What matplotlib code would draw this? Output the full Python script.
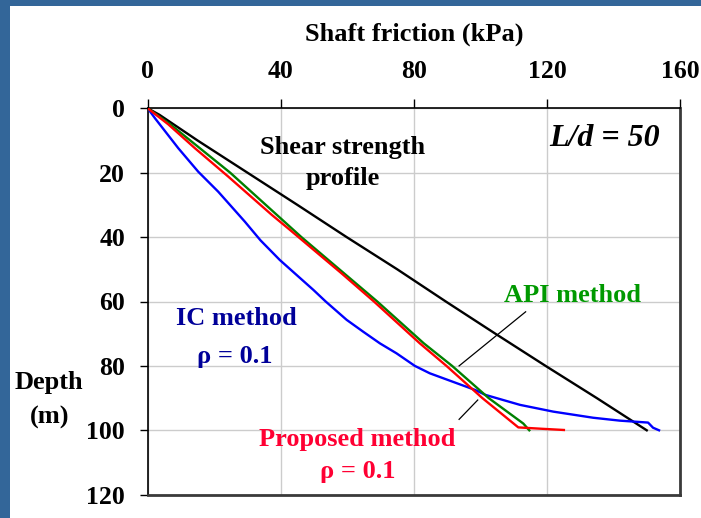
import matplotlib
matplotlib.use("Agg")
import matplotlib.pyplot as plt
from matplotlib.patches import Rectangle

# Shaft friction (kPa) versus depth (m) for a pile with L/d = 50
shear_depth = [0, 2, 10, 20, 30, 40, 50, 60, 70, 80, 90, 100]
shear_friction = [0, 3.5, 15, 30, 45, 59.8, 75, 89.6, 104.5, 119.6, 135, 150]

api_depth = [0, 5, 20, 40, 60, 73, 80, 90, 97.9, 100]
api_friction = [0, 6.8, 24.8, 46.2, 69.0, 83.0, 91.5, 102.5, 112.9, 114.7]

proposed_depth = [0, 5, 12.4, 21.2, 33.1, 37.8, 51.2, 60, 73, 80, 90, 99.1, 99.5, 99.9]
proposed_friction = [0, 6.2, 14.2, 24.2, 37.3, 42.8, 58.2, 68.0, 81.8, 89.8, 100.6, 111.4, 118, 125.1]

ic_depth = [0, 3.1, 12.4, 19.7, 25.9, 35.2, 41.0, 47.1, 51.8, 56.4, 60, 65.7, 69.4,
            73.0, 76.1, 80.0, 82.3, 84.2, 87.5, 89.0, 92.1, 94.2, 96.1, 97.0, 97.6,
            99.2, 100]
ic_friction = [0, 2.2, 9.2, 15.2, 21.2, 29.2, 33.9, 39.7, 44.8, 49.8, 53.5, 59.8, 64.8,
               69.8, 74.8, 80.3, 84.8, 89.8, 98.5, 101.5, 111.9, 121.9, 133.9, 141.9, 150.4,
               151.9, 153.7]

# leader lines from the "API method" label
leader1_x = [113.6, 93.6]
leader1_y = [63.2, 80.0]
leader2_x = [99.2, 93.6]
leader2_y = [90.6, 96.6]

x_ticks = [0, 40, 80, 120, 160]
y_ticks = [0, 20, 40, 60, 80, 100, 120]

SERIF = ["Liberation Serif", "DejaVu Serif"]
plt.rcParams["font.family"] = SERIF

W, H = 701, 518
fig = plt.figure(figsize=(W / 100, H / 100), dpi=100)
fig.patch.set_facecolor("white")

# blue slide frame along the top and left edges
frame = "#336699"
fig.patches.append(Rectangle((0, 1 - 5.7 / H), 1, 5.7 / H, transform=fig.transFigure,
                             facecolor=frame, edgecolor="none", zorder=0))
fig.patches.append(Rectangle((0, 0), 10 / W, 1, transform=fig.transFigure,
                             facecolor=frame, edgecolor="none", zorder=0))

x0, x1 = 147.7, 680.0
y0, y1 = 108.3, 494.7
ax = fig.add_axes([x0 / W, 1 - y1 / H, (x1 - x0) / W, (y1 - y0) / H])

ax.set_xlim(0, 160)
ax.set_ylim(120, 0)
ax.set_xticks(x_ticks)
ax.set_yticks(y_ticks)
ax.set_xticklabels([str(v) for v in x_ticks])
ax.set_yticklabels([str(v) for v in y_ticks])
ax.xaxis.tick_top()
ax.tick_params(axis="x", which="major", direction="out", length=6.5, width=1.0,
               pad=11.5, labelsize=18.5, colors="black")
ax.tick_params(axis="y", which="major", direction="out", length=6.0, width=1.0,
               pad=10.3, labelsize=18.5, colors="black")
for lab in ax.get_xticklabels() + ax.get_yticklabels():
    lab.set_fontweight("bold")

ax.grid(True, color="#cccccc", linewidth=1.0)
ax.set_axisbelow(True)
for side in ("top", "left"):
    ax.spines[side].set_color("black")
    ax.spines[side].set_linewidth(1.2)
for side in ("right", "bottom"):
    ax.spines[side].set_color("#3a3a3a")
    ax.spines[side].set_linewidth(2.0)

ax.plot(shear_friction, shear_depth, color="black", linewidth=1.7, zorder=3)
ax.plot(ic_friction, ic_depth, color="#0000ff", linewidth=1.7, zorder=4)
ax.plot(api_friction, api_depth, color="#008000", linewidth=1.7, zorder=4)
ax.plot(proposed_friction, proposed_depth, color="#ff0000", linewidth=1.7, zorder=5)
ax.plot(leader1_x, leader1_y, color="black", linewidth=0.9, zorder=3)
ax.plot(leader2_x, leader2_y, color="black", linewidth=0.9, zorder=3)


def label(px, py, text, color="black", size=19, style="normal"):
    fig.text(px / W, 1 - py / H, text, ha="center", va="baseline", color=color,
             fontsize=size, fontweight="bold", fontstyle=style, family=SERIF)


label(414, 40.7, "Shaft friction (kPa)")
label(49, 389.3, "Depth")
label(49.5, 423.3, "(m)")
label(343, 154, "Shear strength")
label(343, 185, "profile")
label(605, 146, "L/d = 50", size=23, style="italic")
label(573, 301.7, "API method", color="#009900")
label(236.7, 325, "IC method", color="#000099")
label(235, 362.7, "\u03c1 = 0.1", color="#000099")
label(357.5, 446, "Proposed method", color="#ff0033")
label(357.5, 478.3, "\u03c1 = 0.1", color="#ff0033")

fig.savefig("out.png", dpi=100, facecolor="white")
